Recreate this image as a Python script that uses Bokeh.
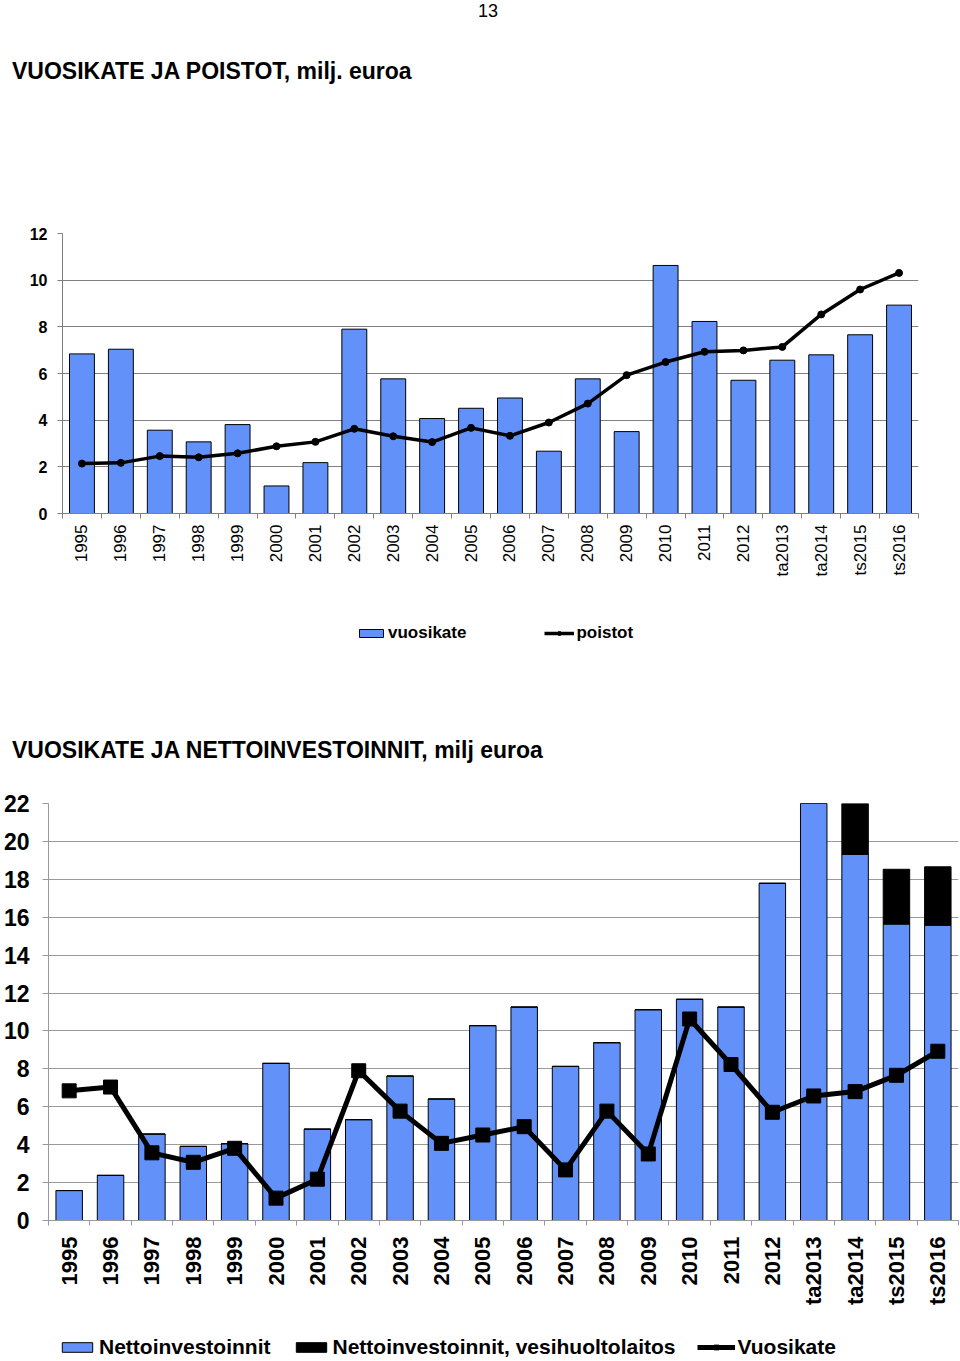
import math
from bokeh.plotting import figure
from bokeh.models import ColumnDataSource, Range1d, FixedTicker, Legend, LegendItem, Div
from bokeh.embed import file_html
from bokeh.resources import INLINE

# ---------------- data ----------------
years = ["1995", "1996", "1997", "1998", "1999", "2000", "2001", "2002", "2003",
         "2004", "2005", "2006", "2007", "2008", "2009", "2010", "2011", "2012",
         "ta2013", "ta2014", "ts2015", "ts2016"]
vuosikate = [6.84, 7.04, 3.57, 3.07, 3.81, 1.18, 2.18, 7.90, 5.77, 4.07, 4.51,
             4.95, 2.67, 5.77, 3.51, 10.63, 8.23, 5.71, 6.57, 6.80, 7.66, 8.93]
poistot = [2.14, 2.17, 2.46, 2.41, 2.58, 2.88, 3.07, 3.63, 3.31, 3.06, 3.67,
           3.33, 3.90, 4.71, 5.93, 6.49, 6.93, 6.99, 7.14, 8.53, 9.60, 10.31]
nettoinvestoinnit = [1.58, 2.38, 4.56, 3.91, 4.05, 8.29, 4.82, 5.32, 7.62, 6.41, 10.28,
                     11.26, 8.13, 9.38, 11.12, 11.67, 11.26, 17.79, 23.5, 19.31, 15.64, 15.58]
vesihuolto = [0.0, 0.0, 0.0, 0.0, 0.0, 0.0, 0.0, 0.0, 0.0, 0.0, 0.0,
              0.0, 0.0, 0.0, 0.0, 0.0, 0.0, 0.0, 0.0, 3.4, 2.89, 3.08]
y1_ticks = [0, 2, 4, 6, 8, 10, 12]
y2_ticks = [0, 2, 4, 6, 8, 10, 12, 14, 16, 18, 20, 22]
page_number = "13"
title1 = "VUOSIKATE JA POISTOT, milj. euroa"
title2 = "VUOSIKATE JA NETTOINVESTOINNIT, milj euroa"

BLUE = "#6292f9"
FONT = "Liberation Sans"

xs = list(range(1, len(years) + 1))
label_map = {i: y for i, y in zip(xs, years)}
bounds = [i - 0.5 for i in xs] + [xs[-1] + 0.5]

src = ColumnDataSource(dict(x=xs, vuosikate=vuosikate, poistot=poistot,
                            netto=nettoinvestoinnit, vesi=vesihuolto))

SPAN = ("position:absolute;white-space:nowrap;color:black;line-height:1.15;"
        "font-family:'Liberation Sans',Arial,sans-serif;")

header1 = Div(text=(
    '<div style="position:relative;width:960px;height:100px;">'
    f'<span style="{SPAN}left:478px;top:1px;font-size:18px;">{page_number}</span>'
    f'<span style="{SPAN}left:12px;top:58px;font-size:23px;font-weight:bold;">{title1}</span>'
    '</div>'), width=960, height=100, margin=0)

header2 = Div(text=(
    '<div style="position:relative;width:960px;height:90px;">'
    f'<span style="{SPAN}left:12px;top:47px;font-size:23px;font-weight:bold;">{title2}</span>'
    '</div>'), width=960, height=90, margin=0)


def legend_figure(height):
    # strip that only carries a legend; its renderers lie outside the visible ranges
    f = figure(width=960, height=height, x_axis_type=None, y_axis_type=None,
               x_range=Range1d(-2, -1), y_range=Range1d(-2, -1),
               min_border=0, output_backend="svg", toolbar_location=None)
    f.outline_line_color = None
    f.grid.visible = False
    return f


def style_axes(p, tick_color, ylab_size, ylab_standoff, ytick_out, xlab_size, xlab_bold, xlab_standoff):
    p.outline_line_color = None
    p.xgrid.visible = False
    p.ygrid.grid_line_color = tick_color
    p.ygrid.grid_line_width = 1
    p.yaxis.major_tick_out = ytick_out
    p.yaxis.major_tick_in = 0
    p.yaxis.minor_tick_out = 0
    p.yaxis.minor_tick_in = 0
    p.yaxis.major_label_standoff = ylab_standoff
    p.yaxis.axis_line_color = tick_color
    p.yaxis.major_tick_line_color = tick_color
    p.yaxis.major_label_text_font = FONT
    p.yaxis.major_label_text_font_style = "bold"
    p.yaxis.major_label_text_font_size = ylab_size
    p.yaxis.major_label_text_color = "black"
    p.xaxis.ticker = FixedTicker(ticks=xs, minor_ticks=bounds)
    p.xaxis.major_label_overrides = label_map
    p.xaxis.major_label_orientation = math.pi / 2
    p.xaxis.major_tick_out = 0
    p.xaxis.major_tick_in = 0
    p.xaxis.minor_tick_out = 5
    p.xaxis.minor_tick_in = 0
    p.xaxis.major_label_standoff = xlab_standoff
    p.xaxis.axis_line_color = tick_color
    p.xaxis.minor_tick_line_color = tick_color
    p.xaxis.major_label_text_font = FONT
    p.xaxis.major_label_text_font_style = "bold" if xlab_bold else "normal"
    p.xaxis.major_label_text_font_size = xlab_size
    p.xaxis.major_label_text_color = "black"


# ---------------- chart 1 ----------------
p1 = figure(frame_width=856, frame_height=280,
            min_border_left=62, min_border_right=42, min_border_top=133, min_border_bottom=87,
            x_range=Range1d(0.5, len(years) + 0.5), y_range=Range1d(0, 12),
            output_backend="svg", toolbar_location=None)
p1.vbar(x="x", top="vuosikate", width=0.64, fill_color=BLUE,
        line_color="black", line_width=1, source=src)
p1.line(x="x", y="poistot", line_width=3.5, color="black", source=src)
p1.scatter(x="x", y="poistot", marker="circle", size=7, color="black", source=src)
p1.yaxis.ticker = FixedTicker(ticks=y1_ticks)
style_axes(p1, "#808080", "16px", 10, 5, "17px", False, 6)

lf1 = legend_figure(90)
k_bar1 = lf1.vbar(x="x", top="vuosikate", width=0.64, fill_color=BLUE,
                  line_color="black", line_width=1, source=src)
k_line1 = lf1.line(x="x", y="poistot", line_width=3.5, color="black", source=src)
k_pt1 = lf1.scatter(x="x", y="poistot", marker="circle", size=7, color="black", source=src)
leg1 = Legend(items=[LegendItem(label="vuosikate", renderers=[k_bar1]),
                     LegendItem(label="poistot", renderers=[k_line1, k_pt1])],
              orientation="horizontal", location=(356, 47),
              padding=0, margin=0, spacing=78, glyph_width=30, glyph_height=10,
              label_height=10, label_standoff=2, label_text_color="black",
              label_text_font=FONT, label_text_font_style="bold", label_text_font_size="17px",
              background_fill_alpha=0, border_line_color=None)
lf1.add_layout(leg1)

# ---------------- chart 2 ----------------
p2 = figure(frame_width=910, frame_height=417,
            min_border_left=47, min_border_right=3, min_border_top=23, min_border_bottom=95,
            x_range=Range1d(0.5, len(years) + 0.5), y_range=Range1d(0, 22),
            output_backend="svg", toolbar_location=None)
p2.vbar_stack(["netto", "vesi"], x="x", width=0.64, color=[BLUE, "black"],
              line_color="black", line_width=1, source=src)
p2.line(x="x", y="vuosikate", line_width=5, color="black", source=src)
p2.scatter(x="x", y="vuosikate", marker="square", size=14, color="black", source=src)
p2.yaxis.ticker = FixedTicker(ticks=y2_ticks)
style_axes(p2, "#999999", "23px", 13, 6, "22px", True, 11)

lf2 = legend_figure(44)
k_bar2a = lf2.vbar(x="x", top="netto", width=0.64, fill_color=BLUE,
                   line_color="black", line_width=1, source=src)
k_bar2b = lf2.vbar(x="x", top="vesi", width=0.64, fill_color="black",
                   line_color="black", line_width=1, source=src)
k_line2 = lf2.line(x="x", y="vuosikate", line_width=5, color="black", source=src)
k_pt2 = lf2.scatter(x="x", y="vuosikate", marker="square", size=14, color="black", source=src)
leg2 = Legend(items=[LegendItem(label="Nettoinvestoinnit", renderers=[k_bar2a]),
                     LegendItem(label="Nettoinvestoinnit, vesihuoltolaitos", renderers=[k_bar2b]),
                     LegendItem(label="Vuosikate", renderers=[k_line2, k_pt2])],
              orientation="horizontal", location=(58, 0),
              padding=0, margin=0, spacing=21, glyph_width=38, glyph_height=12,
              label_height=12, label_standoff=3, label_text_color="black",
              label_text_font=FONT, label_text_font_style="bold", label_text_font_size="21px",
              background_fill_alpha=0, border_line_color=None)
lf2.add_layout(leg2)

open("out.html", "w").write(file_html([header1, p1, lf1, header2, p2, lf2], INLINE))
